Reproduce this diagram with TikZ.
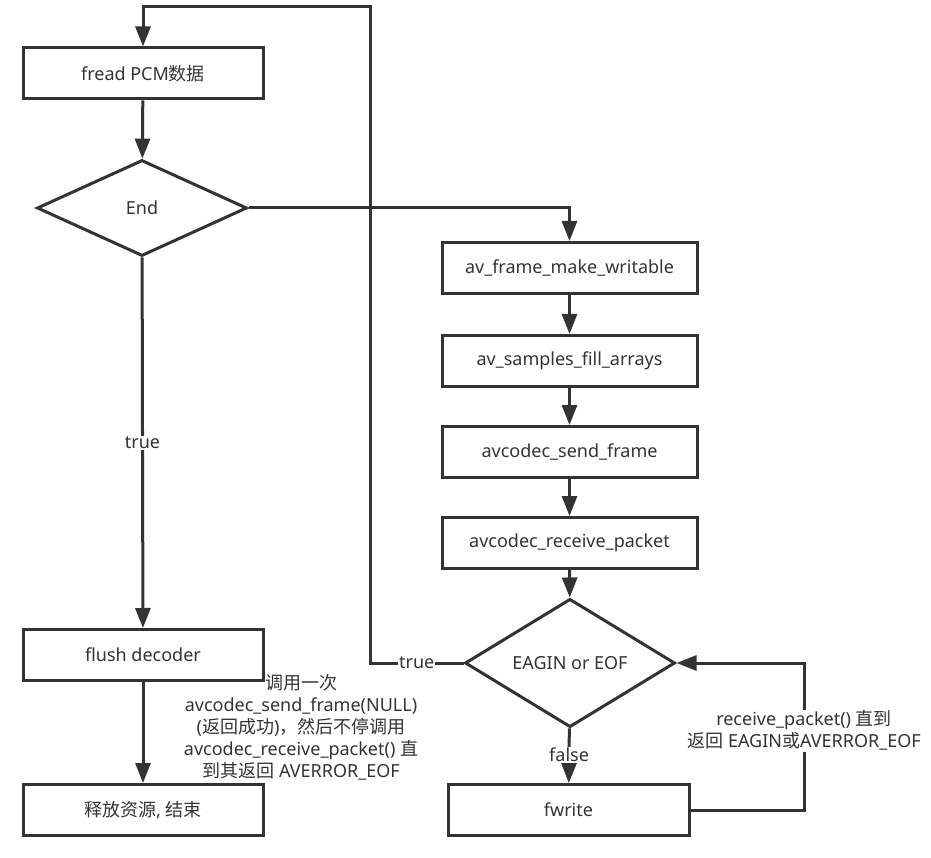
\documentclass[tikz,border=0pt]{standalone}
\usepackage{fontspec}
\setmainfont{Noto Sans}
\newfontfamily\zhfont{Noto Sans CJK SC}
\newcommand{\zh}[1]{{\zhfont #1}}
\usetikzlibrary{arrows.meta,shapes.geometric}
\definecolor{LineClr}{HTML}{333333}
\definecolor{TextClr}{HTML}{333333}

\begin{document}
\begin{tikzpicture}[x=1pt,y=-1pt,
  line width=3pt,draw=LineClr,text=TextClr,
  font=\fontsize{18}{22}\selectfont,
  arr/.style={-{Triangle[width=15pt,length=20pt]}},
  stepbox/.style={draw,rectangle,minimum width=240pt,minimum height=51pt,inner sep=0pt},
  wstepbox/.style={stepbox,minimum width=255pt},
  decide/.style={draw,diamond,minimum width=210pt,minimum height=96pt,inner sep=0pt},
  lbl/.style={fill=white,inner sep=1pt}]
\useasboundingbox (0,0) rectangle (931,858);

% left column
\node[stepbox] (fread) at (143,73.5) {fread PCM\zh{数据}};
\node[decide] (end) at (142,208) {End};
\node[stepbox] (flush) at (143,655) {flush decoder};
\node[stepbox] (release) at (143,810) {\zh{释放资源}, \zh{结束}};

% right column
\node[wstepbox] (frame) at (569.5,268) {av\_frame\_make\_writable};
\node[wstepbox] (fill) at (569.5,361) {av\_samples\_fill\_arrays};
\node[wstepbox] (send) at (569.5,452) {avcodec\_send\_frame};
\node[wstepbox] (recv) at (569.5,543) {avcodec\_receive\_packet};
\node[decide] (eagin) at (570,663) {EAGIN or EOF};
\node[stepbox,minimum width=241pt] (fwrite) at (568.5,810) {fwrite};

\coordinate (loopL) at (370,7);
\coordinate (loopR) at (804,663);

\draw[arr] (fread) -- (end);
\draw[arr] (end) -- node[lbl]{true} (flush);
\draw[arr] (flush) -- (release);
\draw[arr] (end.east) -| (frame.north);
\draw[arr] (frame) -- (fill);
\draw[arr] (fill) -- (send);
\draw[arr] (send) -- (recv);
\draw[arr] (recv) -- (eagin);
\draw[arr] (eagin) -- node[lbl,pos=0.48]{false} (fwrite);
\draw[arr] (eagin.west) -| node[lbl,pos=0.25]{true} (loopL) -| (fread.north);
\draw[arr] (fwrite.east) -| node[lbl,pos=0.77,align=center]{receive\_packet() \zh{直到}\\\zh{返回} EAGIN\zh{或}AVERROR\_EOF} (loopR) -- (eagin.east);

% note on flushing
\node[align=center] (note) at (301,727) {\zh{调用一次}\\avcodec\_send\_frame(NULL)\\(\zh{返回成功})\zh{，然后不停调用}\\avcodec\_receive\_packet() \zh{直}\\\zh{到其返回} AVERROR\_EOF};
\end{tikzpicture}
\end{document}
